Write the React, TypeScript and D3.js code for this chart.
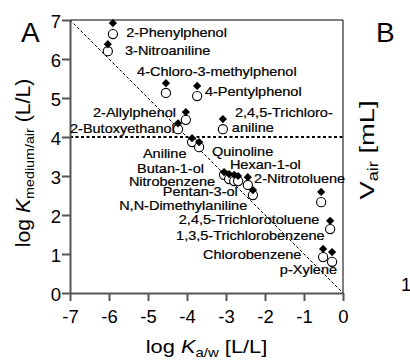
import React from "react";
import * as d3 from "d3";

// compounds, log K_a/w and the two log K_medium/air series
const compounds = [
  "2-Phenylphenol", "3-Nitroaniline", "4-Chloro-3-methylphenol", "4-Pentylphenol",
  "2-Allylphenol", "2-Butoxyethanol", "2,4,5-Trichloroaniline", "Aniline", "Quinoline",
  "Butan-1-ol", "Nitrobenzene", "Hexan-1-ol", "Pentan-3-ol", "2-Nitrotoluene",
  "N,N-Dimethylaniline", "2,4,5-Trichlorotoluene", "1,3,5-Trichlorobenzene",
  "Chlorobenzene", "p-Xylene",
];
const logKaw = [
  -5.9, -6.03, -4.54, -3.74, -4.03, -4.23, -3.08, -3.87, -3.69, -3.05, -2.92, -2.79,
  -2.69, -2.44, -2.31, -0.56, -0.33, -0.51, -0.28,
];
const logKfilled = [
  6.92, 6.38, 5.38, 5.31, 4.64, 4.35, 4.46, 3.97, 3.87, 3.1, 3.05, 3.03, 3.0, 2.97,
  2.64, 2.59, 1.85, 1.13, 1.05,
];
const logKopen = [
  6.64, 6.2, 5.13, 5.05, 4.44, 4.2, 4.2, 3.87, 3.74, 3.03, 2.92, 2.87, 2.87, 2.77,
  2.51, 2.33, 1.64, 0.92, 0.8,
];

// annotation text and where it starts (data units)
const labels = [
  "2-Phenylphenol", "3-Nitroaniline", "4-Chloro-3-methylphenol", "4-Pentylphenol",
  "2-Allylphenol", "2-Butoxyethanol", "2,4,5-Trichloro-", "aniline", "Aniline",
  "Quinoline", "Butan-1-ol", "Hexan-1-ol", "Nitrobenzene", "2-Nitrotoluene",
  "Pentan-3-ol", "N,N-Dimethylaniline", "2,4,5-Trichlorotoluene",
  "1,3,5-Trichlorobenzene", "Chlorobenzene", "p-Xylene",
];
const labelAtX = [
  -5.56, -5.59, -5.28, -3.54, -6.41, -7.0, -2.77, -2.85, -5.13, -3.36, -5.28, -2.9,
  -5.49, -2.28, -4.62, -5.74, -4.21, -4.28, -3.59, -1.62,
];
const labelAtY = [
  6.56, 6.1, 5.56, 5.05, 4.51, 4.1, 4.51, 4.13, 3.46, 3.51, 3.08, 3.18, 2.74, 2.82,
  2.49, 2.13, 1.77, 1.36, 0.87, 0.49,
];

const xTicks = [-7, -6, -5, -4, -3, -2, -1, 0];
const yTicks = [0, 1, 2, 3, 4, 5, 6, 7];
const thresholdY = 4;

const FONT = "'Liberation Sans', Arial, Helvetica, sans-serif";
const SX = 1.17; // reference text runs wide

const margin = { top: 20, right: 67, bottom: 70, left: 70 };
const width = 410;
const height = 363;

function Chart() {
  const ref = React.useRef<SVGSVGElement>(null);

  const x = d3.scaleLinear().domain([-7, 0]).range([margin.left, width - margin.right]);
  const y = d3.scaleLinear().domain([0, 7]).range([height - margin.bottom, margin.top]);

  React.useEffect(() => {
    const svg = d3.select(ref.current);

    const xAxis = (g) =>
      g
        .attr("transform", `translate(0,${y(0)})`)
        .call(
          d3.axisBottom(x).tickValues(xTicks).tickSize(8).tickPadding(9)
            .tickSizeOuter(0).tickFormat((d) => String(d))
        )
        .call((g) => g.selectAll("path,line").attr("stroke", "#555").attr("stroke-width", 2))
        .call((g) =>
          g.selectAll("text").attr("font-size", 18.5).attr("font-family", FONT).attr("fill", "#000")
        );

    const yAxis = (g) =>
      g
        .attr("transform", `translate(${x(-7)},0)`)
        .call(
          d3.axisLeft(y).tickValues(yTicks).tickSize(8).tickPadding(1)
            .tickSizeOuter(0).tickFormat((d) => String(d))
        )
        .call((g) => g.selectAll("path,line").attr("stroke", "#555").attr("stroke-width", 2))
        .call((g) =>
          g.selectAll("text").attr("font-size", 18.5).attr("font-family", FONT)
            .attr("fill", "#000").attr("dy", "0.38em")
        );

    svg.select(".x-axis").call(xAxis);
    svg.select(".y-axis").call(yAxis);
  }, []);

  const diamond = d3.symbol(d3.symbolSquare, 34)();
  const diag = d3.line()([[x(-7), y(7)], [x(0), y(0)]]);

  return (
    <svg
      ref={ref}
      width={width}
      height={height}
      style={{ position: "absolute", left: 0, top: 0, background: "#fff" }}
      fontFamily={FONT}
    >
      {/* frame top/right */}
      <line x1={x(-7)} x2={x(0)} y1={y(7)} y2={y(7)} stroke="#000" strokeWidth={1} />
      <line x1={x(0)} x2={x(0)} y1={y(7)} y2={y(0)} stroke="#000" strokeWidth={1} />

      {/* 1:1 diagonal and threshold */}
      <path d={diag} stroke="#000" strokeWidth={1} strokeDasharray="3,2" fill="none" />
      <line
        x1={x(-7)} x2={x(0)} y1={y(thresholdY)} y2={y(thresholdY)}
        stroke="#000" strokeWidth={2} strokeDasharray="3,2.5"
      />

      <g className="x-axis" />
      <g className="y-axis" />

      {/* open circles then filled diamonds */}
      {compounds.map((c, i) => (
        <circle key={"o" + c} cx={x(logKaw[i])} cy={y(logKopen[i])} r={4.6}
          fill="#fff" stroke="#000" strokeWidth={1.1} />
      ))}
      {compounds.map((c, i) => (
        <path key={"f" + c} d={diamond} fill="#000"
          transform={`translate(${x(logKaw[i])},${y(logKfilled[i])}) rotate(45)`} />
      ))}

      {labels.map((t, i) => (
        <text key={t + i} fontSize={12.4} fill="#000" stroke="#000" strokeWidth={0.2}
          transform={`translate(${x(labelAtX[i])},${y(labelAtY[i])}) scale(${SX},1)`}>
          {t}
        </text>
      ))}

      {/* axis titles */}
      <text fontSize={20} fill="#000" textAnchor="middle"
        transform={`translate(30,163) rotate(-90) scale(1.06,1)`}>
        log <tspan fontStyle="italic">K</tspan>
        <tspan fontSize={13.5} dy={4}>medium/air</tspan>
        <tspan dy={-4}> (L/L)</tspan>
      </text>
      <text fontSize={19} fill="#000" textAnchor="middle"
        transform={`translate(${(x(-7) + x(0)) / 2},353) scale(1.15,1)`}>
        log <tspan fontStyle="italic">K</tspan>
        <tspan fontSize={13} dy={4}>a/w</tspan>
        <tspan dy={-4}> [L/L]</tspan>
      </text>

      {/* panel letters */}
      <text x={21} y={42} fontSize={28} fill="#000">A</text>
      <text x={376} y={42} fontSize={28} fill="#000">B</text>

      {/* edge of panel B */}
      <text fontSize={21} fill="#000" textAnchor="middle"
        transform="translate(374,150) rotate(-90) scale(1.3,1)">
        V<tspan fontSize={14} dy={4}>air</tspan>
        <tspan dy={-4}> [mL]</tspan>
      </text>
      <text x={401} y={291} fontSize={18.5} fill="#000">1</text>
    </svg>
  );
}

export default function App() {
  return <Chart />;
}
